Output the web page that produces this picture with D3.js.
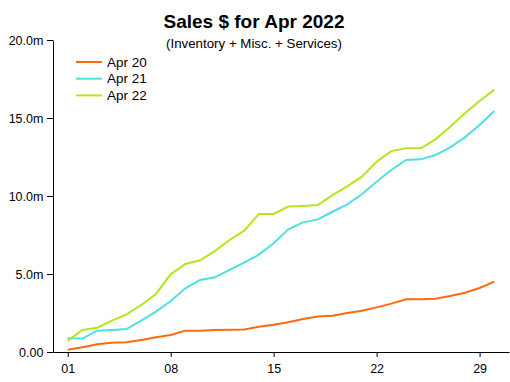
<!DOCTYPE html>
<html>
<head>
<meta charset="utf-8">
<script src="https://cdn.jsdelivr.net/npm/d3@7"></script>
<style>
  body { margin: 0; background: #fff; }
  text { font-family: "Liberation Sans", Arial, sans-serif; }
</style>
</head>
<body>
<div id="chart"></div>
<script>
// Data (values in millions)
const days = d3.range(1, 31);
const apr20 = [0.15, 0.30, 0.49, 0.60, 0.62, 0.77, 0.94, 1.09, 1.37, 1.37,
               1.41, 1.43, 1.45, 1.62, 1.75, 1.91, 2.12, 2.28, 2.32, 2.50,
               2.65, 2.86, 3.10, 3.38, 3.38, 3.42, 3.59, 3.80, 4.10, 4.51];
const apr21 = [0.88, 0.86, 1.37, 1.41, 1.47, 2.01, 2.59, 3.27, 4.08, 4.62,
               4.79, 5.26, 5.73, 6.24, 6.97, 7.86, 8.31, 8.50, 8.99, 9.47,
               10.11, 10.92, 11.67, 12.31, 12.35, 12.63, 13.12, 13.76, 14.55, 15.45];
const apr22 = [0.71, 1.41, 1.56, 2.01, 2.41, 3.01, 3.72, 4.98, 5.64, 5.88,
               6.47, 7.18, 7.78, 8.85, 8.85, 9.32, 9.36, 9.42, 10.06, 10.62,
               11.24, 12.20, 12.88, 13.06, 13.06, 13.63, 14.44, 15.30, 16.09, 16.80];
const seriesNames = ["Apr 20", "Apr 21", "Apr 22"];
const seriesValues = [apr20, apr21, apr22];
const colors = ["#ff6a10", "#4fe0e0", "#b5e61d"];
const xTicks = [1, 8, 15, 22, 29];
const yTicks = [0, 5, 10, 15, 20];
const yTickLabels = ["0.00", "5.0m", "10.0m", "15.0m", "20.0m"];

const width = 510, height = 382;

const svg = d3.select("#chart")
    .append("svg")
    .attr("width", width)
    .attr("height", height);

const x = d3.scaleLinear().domain([0, 31]).range([53, 509]);
const y = d3.scaleLinear().domain([0, 20]).range([352, 40]);

// Title
svg.append("text")
    .attr("x", 254)
    .attr("y", 28)
    .attr("text-anchor", "middle")
    .attr("font-size", 19)
    .attr("font-weight", "bold")
    .text("Sales $ for Apr 2022");

svg.append("text")
    .attr("x", 254)
    .attr("y", 48)
    .attr("text-anchor", "middle")
    .attr("font-size", 13.3)
    .text("(Inventory + Misc. + Services)");

// Axes
const xAxis = svg.append("g")
    .attr("transform", `translate(0,${y(0)})`)
    .call(d3.axisBottom(x)
        .tickValues(xTicks)
        .tickFormat(d3.format("02d"))
        .tickSize(5)
        .tickSizeOuter(0));

const yAxis = svg.append("g")
    .attr("transform", `translate(${x(0)},0)`)
    .call(d3.axisLeft(y)
        .tickValues(yTicks)
        .tickFormat((d, i) => yTickLabels[i])
        .tickSize(6)
        .tickSizeOuter(0));

svg.selectAll(".tick text")
    .attr("font-family", "Liberation Sans, Arial, sans-serif")
    .attr("font-size", 12.5)
    .attr("fill", "#000");
xAxis.selectAll(".tick text").attr("dy", "1.0em");
yAxis.selectAll(".tick text").attr("dx", "-0.05em");
svg.selectAll(".domain, .tick line").attr("stroke", "#000");

// Lines
const line = d3.line()
    .x((d, i) => x(days[i]))
    .y(d => y(d));

svg.selectAll(".series")
    .data(seriesValues)
    .enter()
    .append("path")
    .attr("class", "series")
    .attr("fill", "none")
    .attr("stroke", (d, i) => colors[i])
    .attr("stroke-width", 2)
    .attr("d", line);

// Legend
const legend = svg.selectAll(".legend")
    .data(seriesNames)
    .enter()
    .append("g")
    .attr("class", "legend")
    .attr("transform", (d, i) => `translate(76,${62 + i * 16.7})`);

legend.append("line")
    .attr("x1", 0)
    .attr("x2", 26)
    .attr("stroke", (d, i) => colors[i])
    .attr("stroke-width", 2);

legend.append("text")
    .attr("x", 31)
    .attr("y", 4.5)
    .attr("font-size", 13.5)
    .text(d => d);
</script>
</body>
</html>
